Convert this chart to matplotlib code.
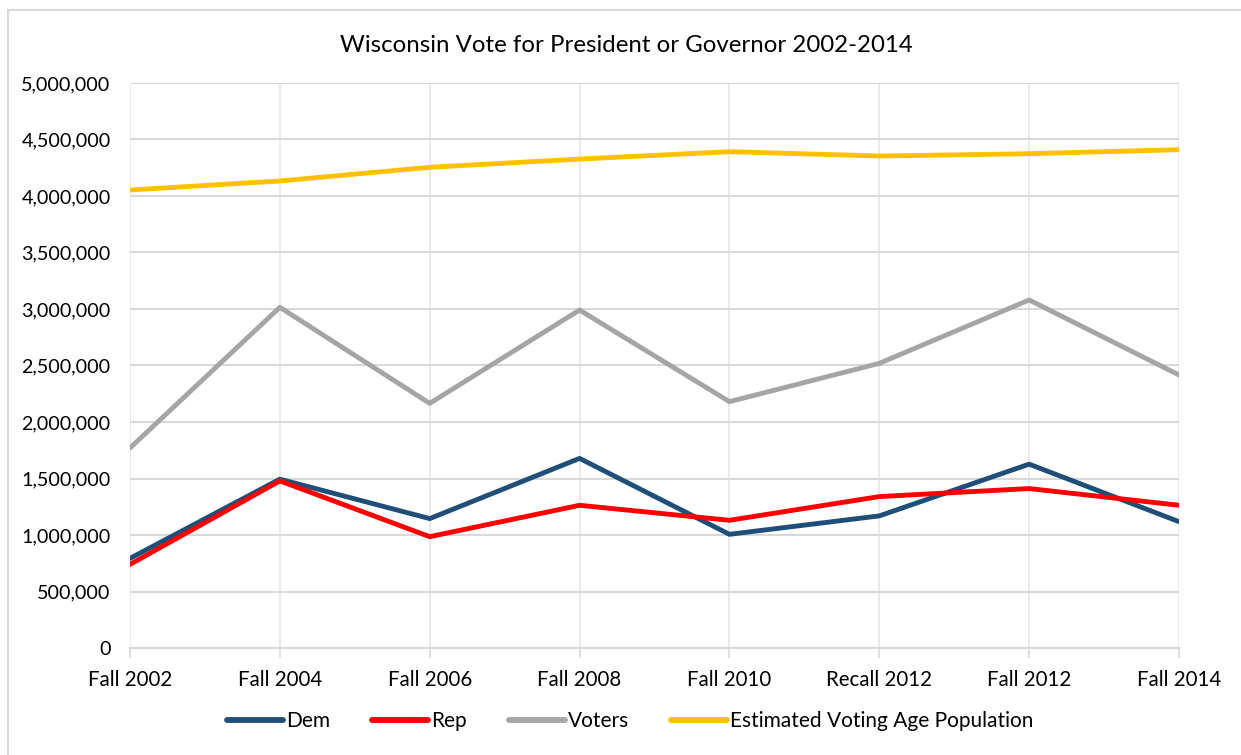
import matplotlib.pyplot as plt
from matplotlib.ticker import FuncFormatter
from matplotlib.patches import Rectangle

plt.rcParams['font.family'] = ['Lato', 'DejaVu Sans']

# data
elections = ['Fall 2002', 'Fall 2004', 'Fall 2006', 'Fall 2008', 'Fall 2010',
             'Recall 2012', 'Fall 2012', 'Fall 2014']
dem = [793000, 1494000, 1145000, 1678000, 1006000, 1169000, 1627000, 1118000]
rep = [740000, 1479000, 985000, 1263000, 1130000, 1340000, 1411000, 1263000]
voters = [1770000, 3015000, 2165000, 2991000, 2180000, 2519000, 3080000, 2416000]
vap = [4053000, 4133000, 4254000, 4327000, 4392000, 4354000, 4374000, 4410000]

fig = plt.figure(figsize=(12.41, 7.55), dpi=100)
# outer chart frame
fig.patches.append(Rectangle((8 / 1241, -0.05), 1.1, 1.05 - 10 / 755,
                             transform=fig.transFigure, fill=False,
                             edgecolor='#D9D9D9', linewidth=1.5))
ax = fig.add_axes([130 / 1241, 1 - 648 / 755, (1179 - 130) / 1241, (648 - 83) / 755])

x = range(len(elections))
lw = 3.5
ax.plot(x, dem, color='#1F4E79', lw=lw, label='Dem', solid_capstyle='round')
ax.plot(x, rep, color='#FF0000', lw=lw, label='Rep', solid_capstyle='round')
ax.plot(x, voters, color='#A5A5A5', lw=lw, label='Voters', solid_capstyle='round')
ax.plot(x, vap, color='#FFC000', lw=lw, label='Estimated Voting Age Population',
        solid_capstyle='round')

ax.set_xlim(0, len(elections) - 1)
ax.set_ylim(0, 5000000)
ax.set_yticks(range(0, 5000001, 500000))
ax.yaxis.set_major_formatter(FuncFormatter(lambda v, p: f'{int(v):,}'))
ax.set_xticks(list(x))
ax.set_xticklabels(elections)

ax.grid(axis='y', color='#D9D9D9', linewidth=1.5)
ax.grid(axis='x', color='#E6E6E6', linewidth=1.2)
ax.set_axisbelow(True)
for s in ['top', 'right', 'left']:
    ax.spines[s].set_visible(False)
ax.spines['bottom'].set_color('#D9D9D9')
ax.spines['bottom'].set_linewidth(1.5)
ax.tick_params(axis='y', length=0, pad=14, labelsize=14.2, labelcolor='#000000')
ax.tick_params(axis='x', length=7, color='#D9D9D9', width=1.2, pad=9,
               labelsize=14.8, labelcolor='#000000')

fig.text(0.505, 1 - 46 / 755, 'Wisconsin Vote for President or Governor 2002-2014',
         ha='center', va='center', fontsize=17.3)

leg = fig.legend(loc='center', bbox_to_anchor=(0.508, 1 - 721 / 755), ncol=4,
                 frameon=False, fontsize=15, handlelength=2.7, handletextpad=0.15,
                 columnspacing=2.0)
for h in leg.get_lines():
    h.set_linewidth(4.2)
    h.set_solid_capstyle('round')

fig.savefig('out.png', dpi=100)
